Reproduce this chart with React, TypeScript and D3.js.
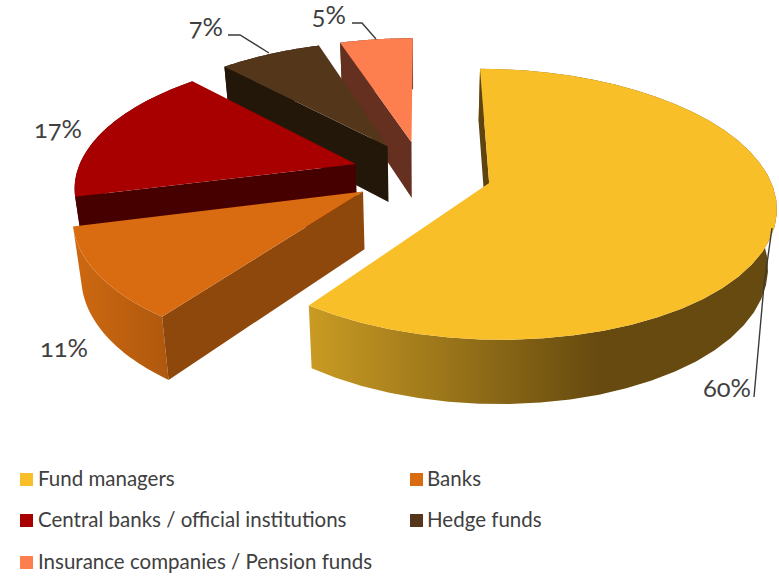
import React from "react";
import * as d3 from "d3";

const categories = ["Fund managers", "Banks", "Central banks / official institutions", "Hedge funds", "Insurance companies / Pension funds"];
const shares = [60, 11, 17, 7, 5];
const shareLabels = ["60%", "11%", "17%", "7%", "5%"];
const topColors = ["#F9BF28", "#D96B11", "#A80000", "#54361A", "#FD7E4F"];
const cutColors = ["#5F4410", "#8E480C", "#470000", "#23170A", "#653020"];
const rimFills = ["url(#rimYellow)", "url(#rimOrange)", "#470000", "#23170A", "#653020"];

const W = 779, H = 576;
const X0 = 422, Y0 = 173, RX = 279, RY = 129, K = 0.155, DEPTH = 57, LOWER = 0.975, EXPLODE = 0.25;

type P = [number, number];
const project = (u: number, v: number, low: boolean): P => {
  const w = 1 - K * v;
  const s = low ? LOWER : 1;
  return [X0 + (s * RX * u) / w, Y0 + (s * RY * v + (low ? DEPTH : 0)) / w];
};

const pieAngles = d3.pie<number>().sort(null).startAngle(0).endAngle(2 * Math.PI)(shares);
const line = d3.line<P>();

const slices = pieAngles.map((d, i) => {
  const mid = (d.startAngle + d.endAngle) / 2;
  const ex = EXPLODE * Math.sin(mid), ey = -EXPLODE * Math.cos(mid);
  const rim = (low: boolean): P[] =>
    d3.range(0, 41).map((n) => {
      const t = d.startAngle + ((d.endAngle - d.startAngle) * n) / 40;
      return project(ex + Math.sin(t), ey - Math.cos(t), low);
    });
  const top = rim(false), bottom = rim(true);
  const apexTop = project(ex, ey, false), apexLow = project(ex, ey, true);
  return {
    i,
    top: line([apexTop, ...top])! + "Z",
    wall: line([...top, ...[...bottom].reverse()])! + "Z",
    cut: line([apexTop, top[0], bottom[0], apexLow])! + "Z",
  };
});

const legendRows = [
  { i: 0, x: 20, y: 473, tx: 38 },
  { i: 1, x: 410, y: 473, tx: 427 },
  { i: 2, x: 20, y: 514, tx: 38 },
  { i: 3, x: 410, y: 514, tx: 427 },
  { i: 4, x: 20, y: 556, tx: 38 },
];
const labelPos = [
  { x: 751, y: 397 },
  { x: 88, y: 357 },
  { x: 82, y: 138 },
  { x: 223, y: 36 },
  { x: 346, y: 24 },
];
const leaders: P[][] = [
  [[754, 397], [764, 285], [772, 228]],
  [],
  [],
  [[228, 35], [240, 35], [269, 53]],
  [[352, 23], [362, 23], [376, 39]],
];

const fontFamily = "Lato, 'Noto Sans', sans-serif";

export default function App() {
  return (
    <svg width={W} height={H} style={{ position: "absolute", left: 0, top: 0, background: "#fff" }}>
      <defs>
        <linearGradient id="rimYellow" gradientUnits="userSpaceOnUse" x1={310} x2={600} y1={0} y2={0}>
          <stop offset="0" stopColor="#C99B23" />
          <stop offset="1" stopColor="#664A0F" />
        </linearGradient>
        <linearGradient id="rimOrange" gradientUnits="userSpaceOnUse" x1={75} x2={170} y1={0} y2={0}>
          <stop offset="0" stopColor="#CE6811" />
          <stop offset="1" stopColor="#AE580D" />
        </linearGradient>
      </defs>
      {[4, 3, 2, 1, 0].map((idx) => {
        const s = slices[idx];
        return (
          <g key={idx}>
            <path d={s.wall} fill={rimFills[idx]} />
            <path d={s.cut} fill={cutColors[idx]} />
            <path d={s.top} fill={topColors[idx]} />
          </g>
        );
      })}
      {leaders.map((pts, i) =>
        pts.length ? <path key={i} d={line(pts)!} fill="none" stroke="#3a3a3a" strokeWidth={1.4} /> : null
      )}
      {shareLabels.map((t, i) => (
        <text key={t} x={labelPos[i].x} y={labelPos[i].y} textAnchor="end" fontFamily={fontFamily} fontSize={25.5}
          fill="#404040" style={{ fontVariantNumeric: "oldstyle-nums" }}>
          {t}
        </text>
      ))}
      {legendRows.map((r) => (
        <g key={r.i}>
          <rect x={r.x} y={r.y} width={13} height={13} fill={topColors[r.i]} />
          <text x={r.tx} y={r.y + 13} fontFamily={fontFamily} fontSize={20.5} fill="#404040">
            {categories[r.i]}
          </text>
        </g>
      ))}
    </svg>
  );
}
